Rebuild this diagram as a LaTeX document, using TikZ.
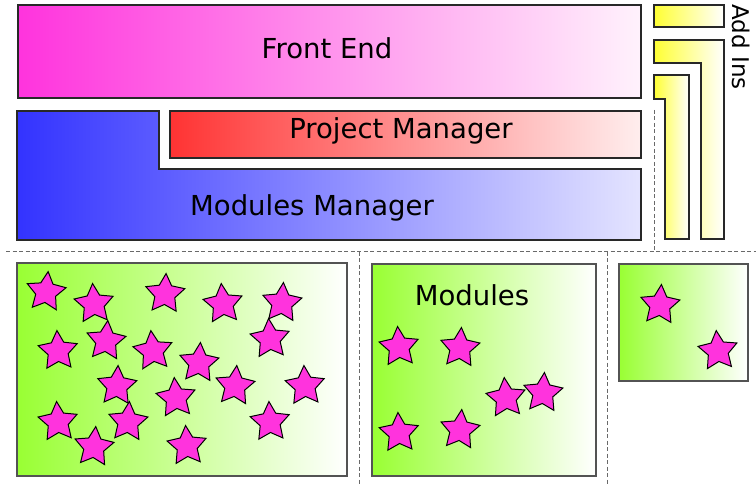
\documentclass[tikz,border=0pt]{standalone}
\usepackage{fontspec}
\setmainfont{DejaVu Sans}
\usetikzlibrary{shapes.geometric}
\definecolor{fepink}{RGB}{255,51,221}
\definecolor{felight}{RGB}{255,242,252}
\definecolor{mmblue}{RGB}{51,51,255}
\definecolor{mmlight}{RGB}{228,228,255}
\definecolor{pmred}{RGB}{255,51,51}
\definecolor{pmlight}{RGB}{255,238,238}
\definecolor{aiyellow}{RGB}{255,255,51}
\definecolor{mgreen}{RGB}{153,255,51}
\definecolor{starfill}{RGB}{255,51,221}
\definecolor{edge}{RGB}{40,40,40}
\definecolor{sepgray}{RGB}{105,105,105}
\begin{document}
\begin{tikzpicture}[x=1pt,y=-1pt,
  boxline/.style={draw=edge,line width=1.1pt},
  lbl/.style={inner sep=0pt,font=\fontsize{27.5}{32}\selectfont},
  sep/.style={draw=sepgray,line width=1pt,dash pattern=on 4pt off 2.5pt},
  gbox/.style={boxline,draw=edge!80,left color=mgreen,right color=white},
  yl/.style={boxline,left color=aiyellow,right color=white},
  st/.style={star,star points=5,star point ratio=1.95,minimum size=41pt,inner sep=0pt,draw=black,line width=1pt,fill=starfill}]
\useasboundingbox (0,0) rectangle (756,484);
% separators
\coordinate (h1) at (6,252);
\coordinate (h2) at (756,252);
\coordinate (v1a) at (654,110);
\coordinate (v1b) at (654,252);
\coordinate (v2a) at (359,252);
\coordinate (v2b) at (359,484);
\coordinate (v3a) at (607,252);
\coordinate (v3b) at (607,484);
\draw[sep] (h1) -- (h2);
\draw[sep] (v1a) -- (v1b);
\draw[sep] (v2a) -- (v2b);
\draw[sep] (v3a) -- (v3b);
% Front End
\path[boxline,left color=fepink,right color=felight] (18,5) rectangle (641,98);
\node[lbl] (fe) at (327,48) {Front End};
% Modules Manager
\path[boxline,left color=mmblue,right color=mmlight]
  (17,111) -- (159,111) -- (159,169) -- (641,169) -- (641,240) -- (17,240) -- cycle;
\node[lbl] (mm) at (312,208) {Modules Manager};
% Project Manager
\path[boxline,left color=pmred,right color=pmlight] (170,111) rectangle (641,158);
\node[lbl] (pm) at (401,131) {Project Manager};
% Add Ins
\path[yl] (654,5) rectangle (724,27);
\path[yl] (654,40) -- (724,40) -- (724,239) -- (701,239) -- (701,63) -- (654,63) -- cycle;
\path[yl] (654,75) -- (689,75) -- (689,239) -- (665,239) -- (665,99) -- (654,99) -- cycle;
\node[inner sep=0pt,font=\fontsize{23}{28}\selectfont,rotate=-90] (ai) at (741,47) {Add Ins};
% Modules boxes
\path[gbox] (17,263) rectangle (347,476);
\path[gbox] (372,264) rectangle (596,476);
\path[gbox] (619,264) rectangle (748,381);
\node[lbl] (mod) at (472,295) {Modules};
% stars box 1
\foreach \n/\x/\y/\r in {a/46/292/-6,b/94/304/4,c/165/294/-3,d/223/304/5,e/282/303/-4,
  f/58/351/3,g/106/341/-5,h/153/351/6,i/199/363/-4,j/270/339/4,
  k/117/386/-3,l/176/398/5,m/235/386/-5,n/305/386/3,
  o/58/422/4,p/128/422/-4,q/270/422/3,r/94/447/-5,s/187/446/4}
  \node[st,rotate=\r] (s\n) at (\x,\y) {};
% stars box 2
\foreach \n/\x/\y/\r in {a/399/347/4,b/460/348/-4,c/506/398/5,d/543/393/-4,e/399/433/3,f/460/430/-5}
  \node[st,rotate=\r] (t\n) at (\x,\y) {};
% stars box 3
\node[st,rotate=-4] (ua) at (660,305) {};
\node[st,rotate=5] (ub) at (718,351) {};
\end{tikzpicture}
\end{document}
